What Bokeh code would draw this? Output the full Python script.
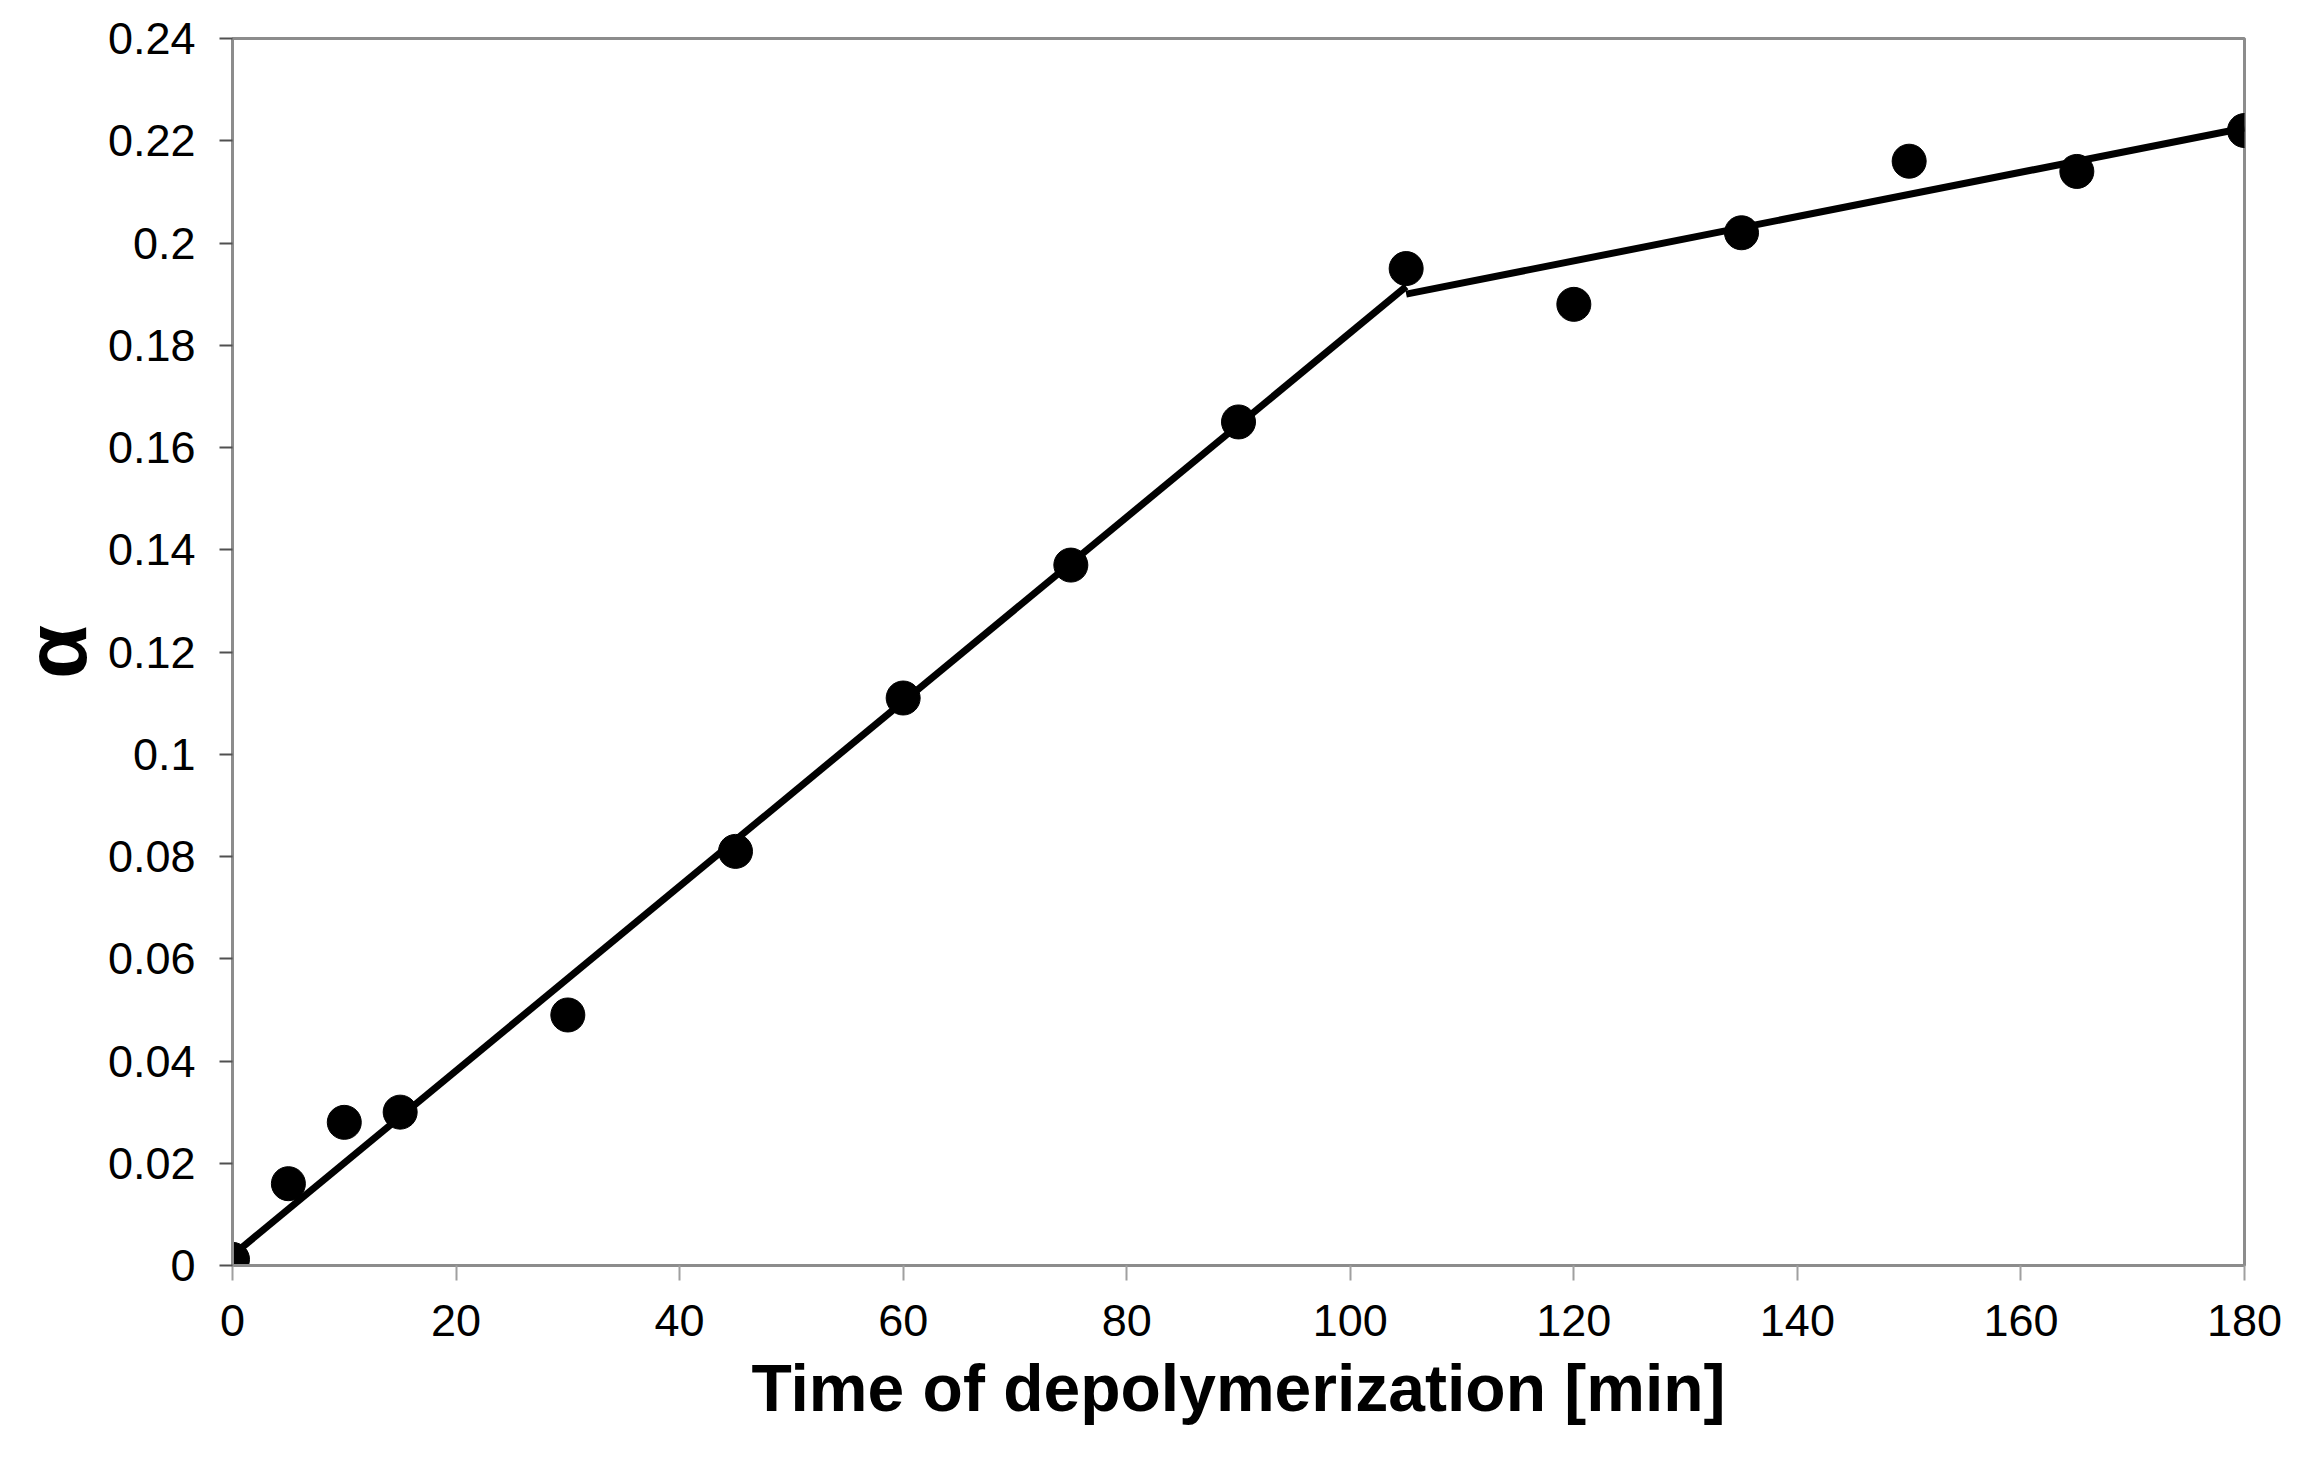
from bokeh.plotting import figure
from bokeh.models import Range1d, FixedTicker
from bokeh.embed import file_html
from bokeh.resources import INLINE

# data
time_min = [0, 5, 10, 15, 30, 45, 60, 75, 90, 105, 120, 135, 150, 165, 180]
alpha = [0.0012, 0.016, 0.028, 0.030, 0.049, 0.081, 0.111, 0.137, 0.165,
         0.195, 0.188, 0.202, 0.216, 0.214, 0.222]
fit1_x = [0, 105]
fit1_y = [0.002, 0.1915]
fit2_x = [105, 180]
fit2_y = [0.190, 0.2225]

x_ticks = [0, 20, 40, 60, 80, 100, 120, 140, 160, 180]
y_ticks = [0, 0.02, 0.04, 0.06, 0.08, 0.10, 0.12, 0.14, 0.16, 0.18, 0.20, 0.22, 0.24]
y_tick_labels = ["0", "0.02", "0.04", "0.06", "0.08", "0.1", "0.12", "0.14",
                 "0.16", "0.18", "0.2", "0.22", "0.24"]
x_title = "Time of depolymerization [min]"
y_title = "α"

FONT = "Liberation Sans"

p = figure(width=2286, height=1446, output_backend="svg", toolbar_location=None,
           x_range=Range1d(0, 180), y_range=Range1d(0, 0.24),
           min_border_left=232, min_border_right=42, min_border_top=38,
           min_border_bottom=181)
p.background_fill_color = "white"
p.border_fill_color = "white"
p.outline_line_color = "#8c8c8c"
p.outline_line_width = 3
p.xgrid.visible = False
p.ygrid.visible = False

p.line(fit1_x, fit1_y, line_color="black", line_width=7)
p.line(fit2_x, fit2_y, line_color="black", line_width=7)
p.scatter(time_min, alpha, size=34, fill_color="black", line_color="black")

xa = p.xaxis[0]
xa.ticker = FixedTicker(ticks=x_ticks)
xa.minor_tick_line_color = None
xa.axis_line_color = "#8c8c8c"
xa.axis_line_width = 3
xa.major_tick_line_color = "#a0a0a0"
xa.major_tick_line_width = 2
xa.major_tick_in = 0
xa.major_tick_out = 15
xa.major_label_standoff = 24
xa.major_label_text_font = FONT
xa.major_label_text_font_size = "45px"
xa.major_label_text_color = "black"
xa.axis_label = x_title
xa.axis_label_text_font = FONT
xa.axis_label_text_font_style = "bold"
xa.axis_label_text_font_size = "66px"
xa.axis_label_text_color = "black"
xa.axis_label_standoff = 12

ya = p.yaxis[0]
ya.ticker = FixedTicker(ticks=y_ticks)
ya.major_label_overrides = {t: l for t, l in zip(y_ticks, y_tick_labels)}
ya.minor_tick_line_color = None
ya.axis_line_color = "#8c8c8c"
ya.axis_line_width = 3
ya.major_tick_line_color = "#505050"
ya.major_tick_line_width = 2
ya.major_tick_in = 0
ya.major_tick_out = 13
ya.major_label_standoff = 24
ya.major_label_text_font = FONT
ya.major_label_text_font_size = "45px"
ya.major_label_text_color = "black"
ya.axis_label = y_title
ya.axis_label_text_font = FONT
ya.axis_label_text_font_style = "bold"
ya.axis_label_text_font_size = "88px"
ya.axis_label_text_color = "black"
ya.axis_label_standoff = 0

open("out.html", "w").write(file_html(p, INLINE))
